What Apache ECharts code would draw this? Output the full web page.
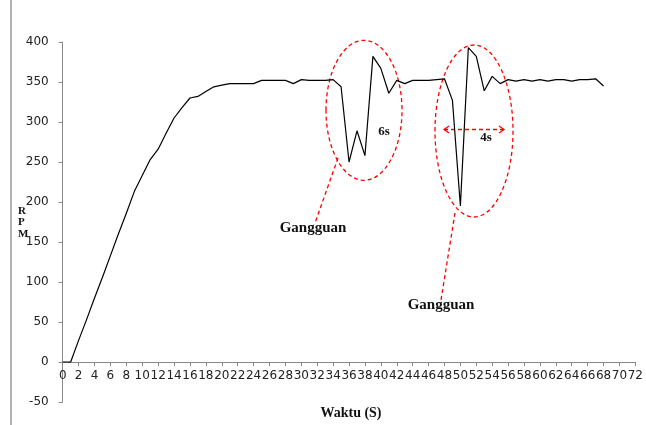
<!DOCTYPE html>
<html>
<head>
<meta charset="utf-8">
<script src="https://cdn.jsdelivr.net/npm/echarts@6/dist/echarts.min.js"></script>
<style>
html,body{margin:0;padding:0;background:#fff;}
#c{width:646px;height:425px;}
</style>
</head>
<body>
<div id="c"></div>
<script>
const seconds = [0,1,2,3,4,5,6,7,8,9,10,11,12,13,14,15,16,17,18,19,20,21,22,23,24,25,26,27,28,29,30,31,32,33,34,35,36,37,38,39,40,41,42,43,44,45,46,47,48,49,50,51,52,53,54,55,56,57,58,59,60,61,62,63,64,65,66,67,68];
const rpm = [0,0,27,53,80,106,133,160,186,213,233,253,266,286,305,318,330,332,338,344,346,348,348,348,348,352,352,352,352,348,353,352,352,352,353,344,250,289,258,382,367,336,352,348,352,352,352,353,354,327,195,393,382,339,357,348,353,351,353,351,353,351,353,353,351,353,353,354,345];
const xAxisTitle = 'Waktu (S)';
const yAxisTitle = 'R\nP\nM';
const noteLabel = 'Gangguan';
const noteDur1 = '6s';
const noteDur2 = '4s';

const chart = echarts.init(document.getElementById('c'), null, {renderer: 'canvas'});
const red = '#ff0000';
const dashed = {stroke: red, lineWidth: 1.3, lineDash: [4, 3], fill: null};
const serif = "'Liberation Serif', 'DejaVu Serif', serif";

chart.setOption({
  animation: false,
  backgroundColor: '#ffffff',
  grid: {left: 62.7, right: 7.3, top: 42, bottom: 23, containLabel: false},
  xAxis: {
    type: 'value', min: 0, max: 72, interval: 2,
    position: 'bottom', offset: -40,
    axisLine: {onZero: false, lineStyle: {color: '#888', width: 1}},
    axisTick: {show: true, length: 4, lineStyle: {color: '#888'}},
    axisLabel: {color: '#222', fontSize: 12, fontFamily: 'DejaVu Sans', margin: 8, hideOverlap: false},
    splitLine: {show: false}
  },
  yAxis: {
    type: 'value', min: -50, max: 400, interval: 50,
    axisLine: {show: true, onZero: false, lineStyle: {color: '#888', width: 1}},
    axisTick: {show: true, length: 4, lineStyle: {color: '#888'}},
    axisLabel: {color: '#222', fontSize: 12, fontFamily: 'DejaVu Sans', margin: 14},
    splitLine: {show: false}
  },
  series: [{
    type: 'line',
    data: seconds.map((s, i) => [s, rpm[i]]),
    showSymbol: false,
    symbol: 'none',
    lineStyle: {color: '#000', width: 1.2}
  }],
  graphic: [
    {type: 'line', shape: {x1: 11, y1: 0, x2: 11, y2: 425}, style: {stroke: '#9a9a9a', lineWidth: 1.5}},
    {type: 'text', left: 18, top: 205, style: {text: yAxisTitle, font: 'bold 11px ' + serif, fill: '#111', lineHeight: 11.5}},
    {type: 'text', x: 351, y: 413, style: {text: xAxisTitle, font: 'bold 14px ' + serif, fill: '#111', textAlign: 'center', textVerticalAlign: 'middle'}},
    {type: 'ellipse', shape: {cx: 364, cy: 110.3, rx: 38, ry: 70}, style: dashed},
    {type: 'ellipse', shape: {cx: 474, cy: 131, rx: 39, ry: 86}, style: dashed},
    {type: 'line', shape: {x1: 338, y1: 158, x2: 315, y2: 223}, style: dashed},
    {type: 'line', shape: {x1: 455, y1: 213, x2: 441, y2: 300}, style: dashed},
    {type: 'line', shape: {x1: 444, y1: 129.5, x2: 504, y2: 129.5}, style: dashed},
    {type: 'polyline', shape: {points: [[449, 126], [444, 129.5], [449, 133]]}, style: {stroke: red, lineWidth: 1.2, fill: null}},
    {type: 'polyline', shape: {points: [[499, 126], [504, 129.5], [499, 133]]}, style: {stroke: red, lineWidth: 1.2, fill: null}},
    {type: 'text', x: 313, y: 228, style: {text: noteLabel, font: 'bold 15px ' + serif, fill: '#111', textAlign: 'center', textVerticalAlign: 'middle'}},
    {type: 'text', x: 441, y: 305, style: {text: noteLabel, font: 'bold 15px ' + serif, fill: '#111', textAlign: 'center', textVerticalAlign: 'middle'}},
    {type: 'text', x: 384, y: 131.5, style: {text: noteDur1, font: 'bold 13px ' + serif, fill: '#111', textAlign: 'center', textVerticalAlign: 'middle'}},
    {type: 'text', x: 486, y: 137.5, style: {text: noteDur2, font: 'bold 13px ' + serif, fill: '#111', textAlign: 'center', textVerticalAlign: 'middle'}}
  ]
});
</script>
</body>
</html>
